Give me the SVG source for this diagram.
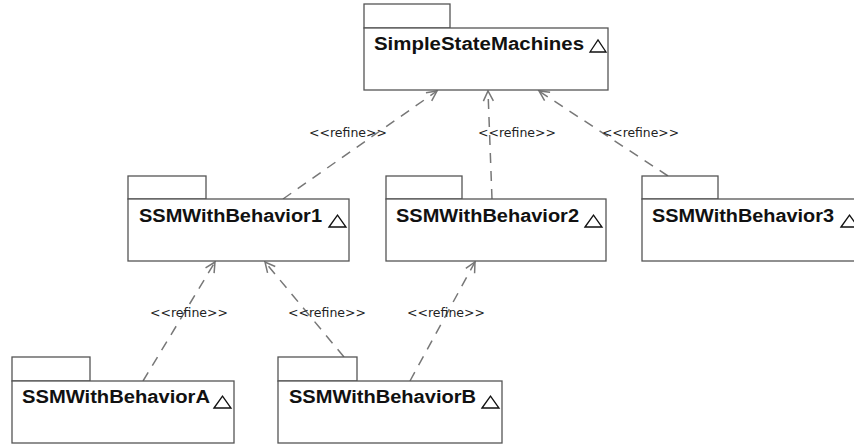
<svg xmlns="http://www.w3.org/2000/svg" width="854" height="444" viewBox="0 0 854 444">
<defs>
<style>
.pk{fill:#fff;stroke:#555;stroke-width:1.3}
.tri{fill:#fff;stroke:#111;stroke-width:1.3}
.nm{font-family:"Liberation Sans",Arial,sans-serif;font-weight:bold;font-size:18px;fill:#111}
.lb{font-family:"DejaVu Sans","Liberation Sans",sans-serif;font-size:12px;fill:#222}
.cn{fill:none;stroke:#777;stroke-width:1.5;stroke-dasharray:10 8}
</style>
<marker id="ah" markerUnits="userSpaceOnUse" markerWidth="14" markerHeight="14" refX="11" refY="6" orient="auto" viewBox="0 0 14 12">
<path d="M1,1 L11,6 L1,11" fill="none" stroke="#777" stroke-width="1.5"/>
</marker>
</defs>
<rect width="854" height="444" fill="#fff"/>

<g id="connectors">
<line class="cn" x1="283" y1="199" x2="437" y2="91" marker-end="url(#ah)"/>
<line class="cn" x1="492" y1="199" x2="488" y2="91" marker-end="url(#ah)"/>
<line class="cn" x1="668" y1="176" x2="539" y2="91" marker-end="url(#ah)"/>
<line class="cn" x1="143" y1="381" x2="215" y2="262" marker-end="url(#ah)"/>
<line class="cn" x1="344" y1="357" x2="265" y2="262" marker-end="url(#ah)"/>
<line class="cn" x1="410" y1="381" x2="475" y2="262" marker-end="url(#ah)"/>
<text class="lb" x="309" y="137" textLength="78" lengthAdjust="spacingAndGlyphs">&lt;&lt;refine&gt;&gt;</text>
<text class="lb" x="478" y="137" textLength="78" lengthAdjust="spacingAndGlyphs">&lt;&lt;refine&gt;&gt;</text>
<text class="lb" x="602" y="137" textLength="77" lengthAdjust="spacingAndGlyphs">&lt;&lt;refine&gt;&gt;</text>
<text class="lb" x="150" y="317" textLength="78" lengthAdjust="spacingAndGlyphs">&lt;&lt;refine&gt;&gt;</text>
<text class="lb" x="288" y="317" textLength="78" lengthAdjust="spacingAndGlyphs">&lt;&lt;refine&gt;&gt;</text>
<text class="lb" x="407" y="317" textLength="78" lengthAdjust="spacingAndGlyphs">&lt;&lt;refine&gt;&gt;</text>
</g>

<g id="SimpleStateMachines">
<rect class="pk" x="364" y="4" width="86" height="24"/>
<rect class="pk" x="364" y="28" width="244" height="62"/>
<text class="nm" x="374" y="50" textLength="210" lengthAdjust="spacingAndGlyphs">SimpleStateMachines</text>
<path class="tri" d="M590,52 L598,40 L606,52 Z"/>
</g>

<g id="SSMWithBehavior1">
<rect class="pk" x="128" y="176" width="78" height="23"/>
<rect class="pk" x="128" y="199" width="221" height="62"/>
<text class="nm" x="139" y="222" textLength="183" lengthAdjust="spacingAndGlyphs">SSMWithBehavior1</text>
<path class="tri" d="M329,227 L337.5,215 L346,227 Z"/>
</g>

<g id="SSMWithBehavior2">
<rect class="pk" x="386" y="176" width="76" height="23"/>
<rect class="pk" x="386" y="199" width="220" height="62"/>
<text class="nm" x="396" y="222" textLength="183" lengthAdjust="spacingAndGlyphs">SSMWithBehavior2</text>
<path class="tri" d="M585,227 L593.5,215 L602,227 Z"/>
</g>

<g id="SSMWithBehavior3">
<rect class="pk" x="642" y="176" width="76" height="23"/>
<rect class="pk" x="642" y="199" width="230" height="62"/>
<text class="nm" x="652" y="222" textLength="182" lengthAdjust="spacingAndGlyphs">SSMWithBehavior3</text>
<path class="tri" d="M841,227 L849.5,215 L858,227 Z"/>
</g>

<g id="SSMWithBehaviorA">
<rect class="pk" x="12" y="357" width="78" height="24"/>
<rect class="pk" x="12" y="381" width="222" height="62"/>
<text class="nm" x="22" y="403" textLength="188" lengthAdjust="spacingAndGlyphs">SSMWithBehaviorA</text>
<path class="tri" d="M214,408 L222.5,396 L231,408 Z"/>
</g>

<g id="SSMWithBehaviorB">
<rect class="pk" x="278" y="357" width="79" height="24"/>
<rect class="pk" x="278" y="381" width="224" height="62"/>
<text class="nm" x="289" y="403" textLength="187" lengthAdjust="spacingAndGlyphs">SSMWithBehaviorB</text>
<path class="tri" d="M482,408 L490.5,396 L499,408 Z"/>
</g>
</svg>
